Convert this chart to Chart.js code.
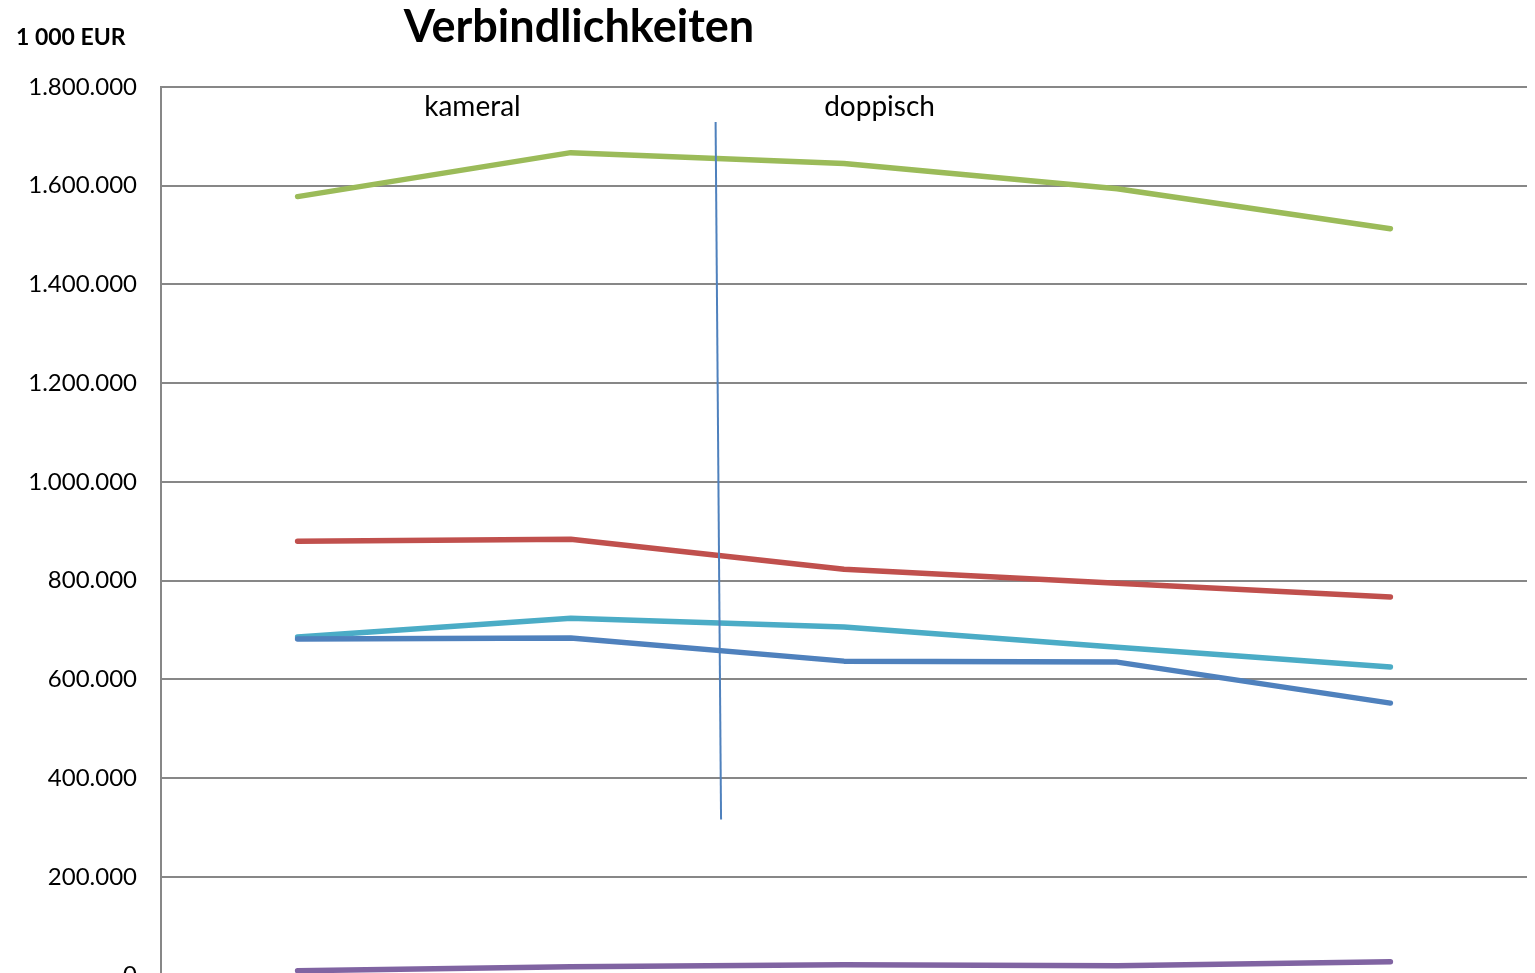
<!DOCTYPE html>
<html>
<head>
<meta charset="utf-8">
<title>Verbindlichkeiten</title>
<script src="https://cdn.jsdelivr.net/npm/chart.js"></script>
<style>
  html, body { margin: 0; padding: 0; background: #fff; overflow: hidden; }
  #wrap { width: 1535px; height: 1014px; }
</style>
</head>
<body>
<div id="wrap"><canvas id="chart" width="1535" height="1014"></canvas></div>
<script>
// --- Data (1 000 EUR) ---
const years = ["Jahr 1", "Jahr 2", "Jahr 3", "Jahr 4", "Jahr 5"];
const seriesBlue = [682000, 684000, 637000, 635000, 552000];
const seriesRed = [880000, 884000, 823000, 795000, 767000];
const seriesGreen = [1578000, 1667000, 1645000, 1594000, 1513000];
const seriesPurple = [10000, 18000, 22000, 20000, 28000];
const seriesCyan = [686000, 724000, 706000, 665000, 625000];

const yMax = 1800000;
const yStep = 200000;

// divider between "kameral" and "doppisch" (category index / value)
const dividerTop = { x: 1.53, y: 1729000 };
const dividerBottom = { x: 1.55, y: 316000 };
const phaseLabels = [
  { text: "kameral", x: 0.64, y: 1759000 },
  { text: "doppisch", x: 2.13, y: 1759000 },
];

const FONT = "Lato, 'Open Sans', sans-serif";

function fmt(v) {
  return String(v).replace(/\B(?=(\d{3})+(?!\d))/g, ".");
}

function line(label, data, color) {
  return {
    label: label,
    data: data,
    borderColor: color,
    backgroundColor: color,
    borderWidth: 5.5,
    borderCapStyle: "round",
    borderJoinStyle: "round",
    pointRadius: 0,
    tension: 0,
    fill: false,
  };
}

// texts and the divider line
const extras = {
  id: "extras",
  afterDatasetsDraw(chart) {
    const ctx = chart.ctx;
    const xs = chart.scales.x;
    const ys = chart.scales.y;
    // category index -> pixel (offset axis, fractional index)
    const px = (i) => {
      const a = xs.getPixelForValue(0);
      const b = xs.getPixelForValue(1);
      return a + (b - a) * i;
    };
    ctx.save();
    ctx.strokeStyle = "#4F81BD";
    ctx.lineWidth = 2;
    ctx.beginPath();
    ctx.moveTo(px(dividerTop.x), ys.getPixelForValue(dividerTop.y));
    ctx.lineTo(px(dividerBottom.x), ys.getPixelForValue(dividerBottom.y));
    ctx.stroke();

    ctx.fillStyle = "#000";
    ctx.textAlign = "center";
    ctx.textBaseline = "middle";
    ctx.font = "28px " + FONT;
    phaseLabels.forEach((l) => {
      ctx.fillText(l.text, px(l.x), ys.getPixelForValue(l.y));
    });

    ctx.font = "bold 45px " + FONT;
    ctx.fillText("Verbindlichkeiten", 579, 27);

    ctx.textAlign = "left";
    ctx.font = "bold 23px " + FONT;
    ctx.fillText("1 000 EUR", 16, 38);
    ctx.restore();
  },
};

new Chart(document.getElementById("chart"), {
  type: "line",
  data: {
    labels: years,
    datasets: [
      line("Reihe 1", seriesBlue, "#4F81BD"),
      line("Reihe 2", seriesRed, "#C0504D"),
      line("Reihe 3", seriesGreen, "#9BBB59"),
      line("Reihe 4", seriesPurple, "#8064A2"),
      line("Reihe 5", seriesCyan, "#4BACC6"),
    ],
  },
  options: {
    responsive: false,
    animation: false,
    layout: { padding: { left: 0, right: 8, top: 87, bottom: 24 } },
    plugins: {
      legend: { display: false },
      title: { display: false },
      tooltip: { enabled: false },
    },
    scales: {
      x: {
        display: false,
        offset: true,
      },
      y: {
        min: 0,
        max: yMax,
        afterFit(scale) {
          scale.width = 161;
        },
        ticks: {
          stepSize: yStep,
          padding: 24,
          color: "#000",
          font: { family: FONT, size: 24 },
          callback: (v) => fmt(v),
        },
        grid: {
          color: "#878787",
          lineWidth: 2,
          drawTicks: false,
        },
        border: { color: "#878787", width: 2 },
      },
    },
  },
  plugins: [extras],
});
</script>
</body>
</html>
